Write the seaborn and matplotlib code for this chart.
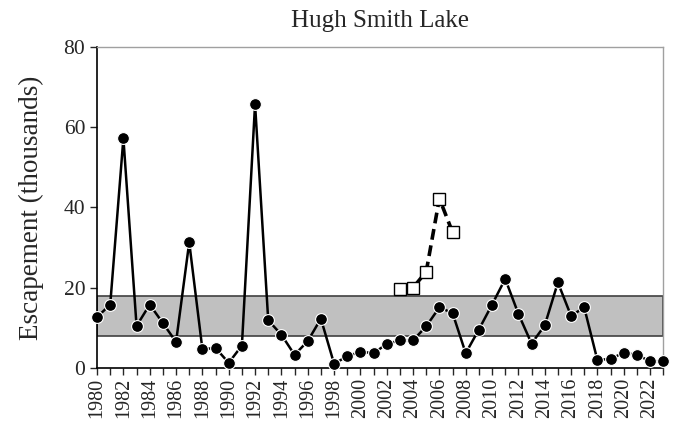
import pandas as pd
import matplotlib.pyplot as plt
import seaborn as sns
from matplotlib.ticker import MultipleLocator

# Escapement counts (thousands)
years = list(range(1980, 2024))
escapement = [12.7, 15.8, 57.2, 10.5, 15.8, 11.2, 6.5, 31.3, 4.7, 5.0,
              1.3, 5.6, 65.7, 11.9, 8.3, 3.3, 6.7, 12.3, 1.1, 2.9,
              4.1, 3.7, 6.0, 6.9, 6.9, 10.4, 15.1, 13.7, 3.7, 9.6,
              15.8, 22.2, 13.5, 6.1, 10.6, 21.3, 13.0, 15.1, 2.0, 2.3,
              3.8, 3.3, 1.7, 1.7]
alt_years = [2003, 2004, 2005, 2006, 2007]
alt_escapement = [19.8, 20.0, 24.0, 42.2, 33.8]
goal_low, goal_high = 8, 18

main_df = pd.DataFrame({"year": years, "esc": escapement})
alt_df = pd.DataFrame({"year": alt_years, "esc": alt_escapement})

sns.set_style("white")
plt.rcParams["font.family"] = ["Liberation Serif", "DejaVu Serif"]

fig = plt.figure(figsize=(6.74, 4.28), dpi=100)
ax = fig.add_axes([0.144, 0.140, 0.840, 0.751])

# escapement goal range
ax.axhspan(goal_low, goal_high, facecolor="#c0c0c0", edgecolor="#404040", linewidth=1.2, zorder=1)

sns.lineplot(data=main_df, x="year", y="esc", ax=ax, color="black", linewidth=1.8,
             marker="o", markersize=8.5, markerfacecolor="black", markeredgecolor="white",
             markeredgewidth=0.8, clip_on=False, zorder=3)
sns.lineplot(data=alt_df, x="year", y="esc", ax=ax, color="black", linewidth=2.6,
             linestyle=(0, (3, 1.6)), marker="s", markersize=8, markerfacecolor="white",
             markeredgecolor="black", markeredgewidth=1.0, clip_on=False, zorder=3)

ax.set_xlim(1980, 2023)
ax.set_ylim(0, 80)
ax.set_yticks([0, 20, 40, 60, 80])
ax.set_xticks(list(range(1980, 2023, 2)))
ax.xaxis.set_minor_locator(MultipleLocator(1))
ax.set_xticklabels([str(y) for y in range(1980, 2023, 2)], rotation=90, fontsize=14.5)
ax.tick_params(axis="y", labelsize=15.5, direction="out", length=5, width=1, left=True)
ax.tick_params(axis="x", which="both", direction="out", length=5, width=1, bottom=True, pad=2)

ax.set_xlabel("")
ax.set_ylabel("Escapement (thousands)", fontsize=19.5, labelpad=14)
ax.set_title("Hugh Smith Lake", fontsize=18, pad=14)

for side in ["left", "bottom"]:
    ax.spines[side].set_color("black")
    ax.spines[side].set_linewidth(1.2)
for side in ["top", "right"]:
    ax.spines[side].set_color("#a0a0a0")
    ax.spines[side].set_linewidth(1.0)

fig.savefig("out.png", dpi=100)
